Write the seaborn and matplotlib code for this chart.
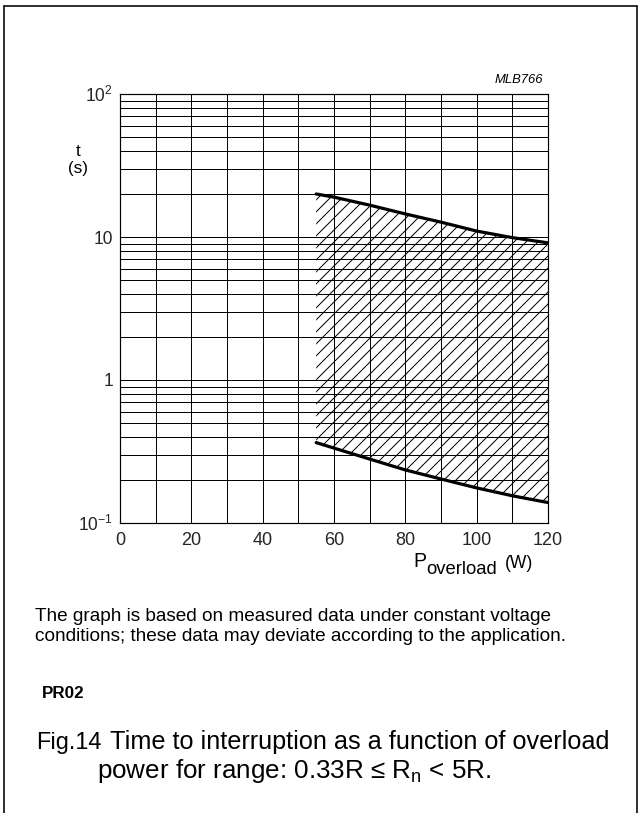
import numpy as np
import pandas as pd
import matplotlib
matplotlib.use("Agg")
import matplotlib.pyplot as plt
import seaborn as sns
from matplotlib.ticker import FixedLocator, NullFormatter, LogLocator
from matplotlib.lines import Line2D

# ---- data ----
power_w = [55, 60, 70, 80, 90, 100, 110, 120]
t_upper_s = [20.0, 19.0, 16.7, 14.5, 12.7, 11.0, 9.9, 9.1]
t_lower_s = [0.365, 0.334, 0.28, 0.235, 0.203, 0.176, 0.155, 0.139]
x_ticks = [0, 20, 40, 60, 80, 100, 120]
y_ticks = [0.1, 1, 10, 100]
y_tick_labels = ["10$^{-1}$", "1", "10", "10$^{2}$"]

W, H, DPI = 639, 813, 72

sns.set_style("white")
plt.rcParams["font.family"] = ["Liberation Sans", "DejaVu Sans"]
plt.rcParams["mathtext.fontset"] = "custom"
plt.rcParams["mathtext.rm"] = "Liberation Sans"
plt.rcParams["mathtext.it"] = "Liberation Sans:italic"
plt.rcParams["mathtext.bf"] = "Liberation Sans:bold"
plt.rcParams["hatch.linewidth"] = 1.0
plt.rcParams["text.color"] = "black"

fig = plt.figure(figsize=(W / DPI, H / DPI), dpi=DPI)
fig.patch.set_facecolor("white")


def fx(x):
    return x / W


def fy(y):
    return 1 - y / H


ax = fig.add_axes([fx(120), fy(523), (548 - 120) / W, (523 - 94) / H])

df = pd.DataFrame({
    "P": power_w + power_w,
    "t": t_upper_s + t_lower_s,
    "bound": ["upper"] * len(power_w) + ["lower"] * len(power_w),
})

ax.fill_between(power_w, t_lower_s, t_upper_s, facecolor="none",
                edgecolor="black", hatch="//", linewidth=0, zorder=3)
sns.lineplot(data=df, x="P", y="t", units="bound", estimator=None,
             color="black", linewidth=3.2, ax=ax, sort=False, zorder=4)

ax.set_yscale("log")
ax.set_xlim(0, 120)
ax.set_ylim(0.1, 100)
ax.set_xticks(x_ticks)
ax.set_xticks(np.arange(0, 121, 10), minor=True)
ax.yaxis.set_major_locator(FixedLocator(y_ticks))
ax.set_yticklabels(y_tick_labels)
ax.yaxis.set_minor_locator(LogLocator(base=10, subs=np.arange(2, 10)))
ax.yaxis.set_minor_formatter(NullFormatter())
ax.grid(True, which="both", color="black", linewidth=1.0)
ax.set_axisbelow(True)
ax.tick_params(which="both", length=0)
ax.tick_params(axis="x", pad=9, labelsize=18)
ax.tick_params(axis="y", pad=7, labelsize=17.5)
ax.set_xlabel("")
ax.set_ylabel("")
for s in ax.spines.values():
    s.set_color("black")
    s.set_linewidth(1.2)

# y-axis label
fig.text(fx(78), fy(160), "t\n(s)", ha="center", va="center", size=17,
         multialignment="center")
# code label
fig.text(fx(543), fy(83), "MLB766", ha="right", va="baseline", size=13,
         style="italic")
# x-axis label pieces
fig.text(fx(413), fy(567), "P", ha="left", va="baseline", size=19.5)
fig.text(fx(426.5), fy(574), "overload", ha="left", va="baseline", size=18.5)
fig.text(fx(505), fy(568), "(W)", ha="left", va="baseline", size=17.5)

# notes
fig.text(fx(35), fy(621), "The graph is based on measured data under constant voltage",
         ha="left", va="baseline", size=19)
fig.text(fx(35), fy(641), "conditions; these data may deviate according to the application.",
         ha="left", va="baseline", size=19)
fig.text(fx(42), fy(698), "PR02", ha="left", va="baseline", size=17, weight="bold")
fig.text(fx(36), fy(749), "Fig.14", ha="left", va="baseline", size=23.5)
fig.text(fx(110), fy(749), "Time to interruption as a function of overload",
         ha="left", va="baseline", size=25.2)
fig.text(fx(97), fy(778), "power for range: 0.33R \u2264 R$_\\mathregular{n}$ < 5R.",
         ha="left", va="baseline", size=26)

# frame around the figure
for xs, ys in [([4, 4], [6, 813]), ([4, 637], [6, 6]), ([637, 637], [6, 813])]:
    fig.add_artist(Line2D([fx(v) for v in xs], [fy(v) for v in ys],
                          color="black", linewidth=1.6))

fig.savefig("out.png", dpi=DPI, facecolor="white")
